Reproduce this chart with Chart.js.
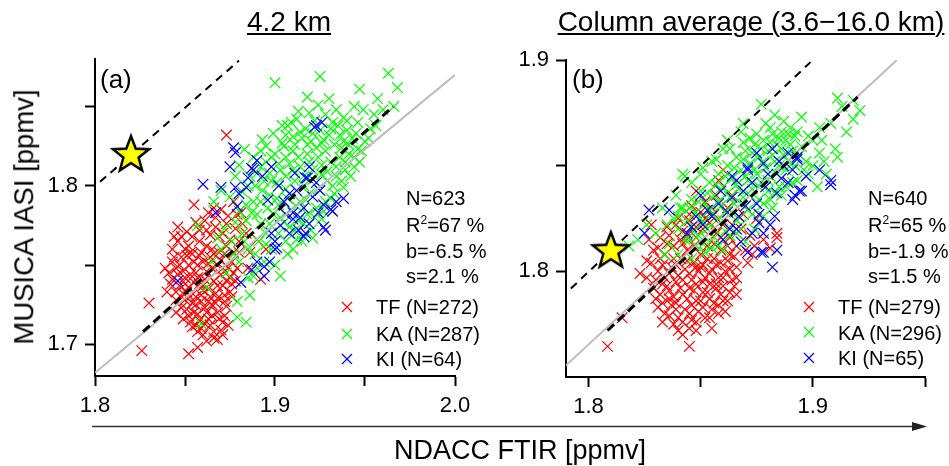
<!DOCTYPE html>
<html>
<head>
<meta charset="utf-8">
<title>MUSICA IASI vs NDACC FTIR</title>
<script src="https://cdn.jsdelivr.net/npm/chart.js@4.4.0/dist/chart.umd.min.js"></script>
<style>
  html, body { margin: 0; padding: 0; background: #fff; }
  body { position: relative; width: 949px; height: 466px; overflow: hidden; font-family: "Liberation Sans", Arial, sans-serif; color: #000; }
  canvas { position: absolute; top: 0; }
  #chartA { left: 0; }
  #chartB { left: 480px; }
  .t { position: absolute; line-height: 1; white-space: nowrap; }
  .title { font-size: 28px; top: 8px; transform: translateX(-50%); text-decoration: underline; text-decoration-thickness: 2px; text-underline-offset: 2px; }
  .panel { font-size: 26px; top: 66px; }
  .stat { font-size: 20px; }
  .stat sup { font-size: 12px; vertical-align: baseline; position: relative; top: -8px; }
  #ytitle { font-size: 27.5px; left: 23.5px; top: 217px; transform: translate(-50%, -50%) rotate(-90deg); }
  #xtitle { font-size: 27px; left: 520px; top: 437px; transform: translateX(-50%); }
  svg { position: absolute; left: 0; top: 0; }
</style>
</head>
<body>
<canvas id="chartA" width="480" height="466"></canvas>
<canvas id="chartB" width="469" height="466"></canvas>

<div class="t title" style="left:289px">4.2 km</div>
<div class="t title" style="left:751px">Column average (3.6−16.0 km)</div>
<div class="t panel" style="left:100px">(a)</div>
<div class="t panel" style="left:572px">(b)</div>
<div class="t" id="ytitle">MUSICA IASI [ppmv]</div>
<div class="t" id="xtitle">NDACC FTIR [ppmv]</div>

<div class="t stat" style="left:406px;top:188px">N=623</div>
<div class="t stat" style="left:406px;top:215px">R<sup>2</sup>=67 %</div>
<div class="t stat" style="left:406px;top:241px">b=-6.5 %</div>
<div class="t stat" style="left:406px;top:266px">s=2.1 %</div>
<div class="t stat" style="left:376px;top:297px">TF (N=272)</div>
<div class="t stat" style="left:376px;top:324px">KA (N=287)</div>
<div class="t stat" style="left:376px;top:349px">KI (N=64)</div>

<div class="t stat" style="left:868px;top:188px">N=640</div>
<div class="t stat" style="left:868px;top:215px">R<sup>2</sup>=65 %</div>
<div class="t stat" style="left:868px;top:241px">b=-1.9 %</div>
<div class="t stat" style="left:868px;top:266px">s=1.5 %</div>
<div class="t stat" style="left:838px;top:297px">TF (N=279)</div>
<div class="t stat" style="left:838px;top:323px">KA (N=296)</div>
<div class="t stat" style="left:838px;top:348px">KI (N=65)</div>

<svg width="949" height="466">
  <line x1="92" y1="426.5" x2="914" y2="426.5" stroke="#333" stroke-width="1.3"/>
  <polygon points="927,426.5 912,422 912,431" fill="#222"/>
  <g stroke-width="1.2" fill="none">
    <path d="M342 302 L352 312 M352 302 L342 312" stroke="#ff0000"/>
    <path d="M342 329 L352 339 M352 329 L342 339" stroke="#00ff00"/>
    <path d="M342 354 L352 364 M352 354 L342 364" stroke="#0000ff"/>
    <path d="M804 302 L814 312 M814 302 L804 312" stroke="#ff0000"/>
    <path d="M804 327 L814 337 M814 327 L804 337" stroke="#00ff00"/>
    <path d="M804 353 L814 363 M814 353 L804 363" stroke="#0000ff"/>
  </g>
</svg>

<script>
// --- axis ticks ---
const xTicksA = [1.8, 1.85, 1.9, 1.95, 2.0];
const yTicksA = [1.7, 1.75, 1.8, 1.85];
const xTicksB = [1.8, 1.85, 1.9, 1.95];
const yTicksB = [1.8, 1.85, 1.9];

// --- panel (a): 4.2 km, [FTIR, IASI] in ppmv ---
const tfA = [
  [1.826,1.696],[1.830,1.726],[1.852,1.694],[1.857,1.698],[1.873,1.832],[1.866,1.786],[1.892,1.741],[1.885,1.748],
  [1.846,1.774],[1.851,1.771],[1.856,1.777],[1.867,1.780],[1.869,1.768],[1.879,1.782],[1.873,1.776],[1.862,1.772],
  [1.858,1.765],[1.848,1.768],[1.877,1.790],[1.870,1.785],[1.863,1.783],[1.855,1.788],[1.882,1.776],[1.875,1.766],
  [1.865,1.760],[1.852,1.762],[1.843,1.760],[1.884,1.770],[1.881,1.783],[1.890,1.766],[1.895,1.760],[1.886,1.758],
  [1.841,1.745],[1.843,1.752],[1.845,1.748],[1.848,1.755],[1.850,1.742],[1.852,1.750],[1.854,1.757],[1.856,1.745],
  [1.858,1.738],[1.860,1.752],[1.862,1.746],[1.864,1.755],[1.866,1.740],[1.868,1.750],[1.870,1.744],[1.872,1.757],
  [1.874,1.748],[1.876,1.752],[1.878,1.740],[1.880,1.758],[1.847,1.737],[1.851,1.733],[1.855,1.739],[1.859,1.731],
  [1.863,1.735],[1.867,1.732],[1.871,1.737],[1.875,1.733],[1.845,1.733],[1.840,1.733],[1.853,1.758],[1.861,1.741],
  [1.857,1.750],[1.869,1.758],[1.865,1.748],[1.849,1.746],[1.873,1.740],[1.877,1.745],[1.862,1.762],[1.858,1.756],
  [1.848,1.723],[1.852,1.718],[1.854,1.711],[1.856,1.725],[1.858,1.715],[1.860,1.706],[1.862,1.720],[1.864,1.712],
  [1.866,1.704],[1.868,1.703],[1.868,1.720],[1.871,1.714],[1.873,1.724],[1.876,1.730],[1.850,1.728],[1.855,1.720],
  [1.859,1.727],[1.861,1.713],[1.863,1.727],[1.865,1.718],[1.867,1.726],[1.870,1.709],[1.857,1.708],[1.853,1.730],
  [1.872,1.718],[1.874,1.712],
  [1.846,1.765],[1.850,1.760],[1.854,1.768],[1.858,1.772],[1.861,1.778],[1.864,1.769],[1.867,1.774],[1.871,1.770],
  [1.874,1.781],[1.878,1.773],[1.844,1.755],[1.847,1.750],[1.851,1.756],[1.855,1.752],[1.859,1.758],[1.863,1.751],
  [1.866,1.757],[1.870,1.753],[1.873,1.762],[1.877,1.758],[1.843,1.741],[1.846,1.744],[1.850,1.738],[1.853,1.744],
  [1.857,1.742],[1.860,1.737],[1.864,1.742],[1.868,1.737],[1.871,1.748],[1.875,1.742],[1.845,1.728],[1.849,1.732],
  [1.852,1.736],[1.856,1.730],[1.860,1.734],[1.864,1.730],[1.868,1.729],[1.872,1.731],[1.876,1.738],[1.879,1.748],
  [1.851,1.722],[1.854,1.726],[1.857,1.719],[1.861,1.723],[1.865,1.725],[1.869,1.716],[1.872,1.727],[1.863,1.716],
  [1.859,1.710],[1.866,1.708],[1.849,1.716],[1.853,1.714],[1.856,1.712],[1.871,1.706],[1.862,1.702],[1.845,1.720],
  [1.842,1.738],[1.839,1.748],[1.844,1.768],[1.880,1.765]
];
const kaA = [
  [1.900,1.865],[1.925,1.869],[1.963,1.871],[1.968,1.862],[1.947,1.861],[1.957,1.855],[1.949,1.848],[1.966,1.850],
  [1.924,1.851],[1.907,1.838],[1.910,1.831],[1.928,1.845],[1.946,1.840],[1.909,1.840],[1.938,1.843],[1.955,1.845],
  [1.893,1.829],[1.883,1.823],[1.878,1.806],[1.875,1.793],[1.904,1.827],[1.888,1.818],[1.880,1.813],[1.870,1.797],[1.866,1.790],
  [1.885,1.800],[1.890,1.808],[1.895,1.815],[1.900,1.820],[1.905,1.825],[1.910,1.822],[1.915,1.830],[1.920,1.828],
  [1.925,1.835],[1.930,1.832],[1.935,1.838],[1.940,1.835],[1.888,1.790],[1.893,1.797],[1.898,1.803],[1.903,1.810],
  [1.908,1.814],[1.913,1.818],[1.918,1.820],[1.923,1.824],[1.928,1.822],[1.933,1.826],[1.938,1.828],[1.943,1.830],
  [1.890,1.782],[1.896,1.786],[1.901,1.792],[1.906,1.798],[1.911,1.803],[1.916,1.806],[1.921,1.810],[1.926,1.813],
  [1.931,1.815],[1.936,1.818],[1.941,1.820],[1.946,1.823],[1.897,1.776],[1.903,1.780],[1.909,1.785],[1.914,1.790],
  [1.919,1.795],[1.924,1.798],[1.929,1.803],[1.934,1.806],[1.939,1.810],[1.944,1.812],[1.902,1.770],[1.908,1.774],
  [1.913,1.778],[1.918,1.782],[1.923,1.786],[1.928,1.790],[1.933,1.795],[1.938,1.799],[1.882,1.796],[1.887,1.811],
  [1.892,1.822],[1.899,1.833],[1.904,1.838],[1.912,1.842],[1.917,1.836],[1.922,1.841],[1.927,1.829],[1.932,1.840],
  [1.937,1.824],[1.942,1.806],[1.947,1.815],[1.950,1.828],[1.953,1.836],[1.945,1.833],
  [1.862,1.736],[1.884,1.714],[1.879,1.717],[1.886,1.731],[1.879,1.727],[1.859,1.713],[1.857,1.775],[1.903,1.743],
  [1.888,1.743],[1.873,1.745],[1.870,1.760],[1.876,1.765],[1.882,1.770],[1.880,1.752],[1.885,1.760],[1.891,1.765],
  [1.878,1.777],[1.884,1.778],[1.889,1.757],[1.894,1.752],[1.898,1.760],[1.915,1.765],[1.907,1.757],[1.865,1.752],
  [1.868,1.767],[1.872,1.773],[1.895,1.770],[1.900,1.750],[1.910,1.760],[1.920,1.772],
  [1.895,1.825],[1.898,1.818],[1.902,1.814],[1.906,1.818],[1.911,1.826],[1.914,1.834],[1.918,1.826],[1.921,1.833],
  [1.926,1.827],[1.931,1.836],[1.886,1.806],[1.892,1.812],[1.897,1.808],[1.901,1.802],[1.906,1.806],[1.910,1.810],
  [1.914,1.812],[1.919,1.815],[1.924,1.818],[1.929,1.809],[1.934,1.812],[1.939,1.815],[1.944,1.818],[1.948,1.822],
  [1.952,1.830],[1.936,1.832],[1.941,1.826],[1.916,1.800],[1.921,1.804],[1.926,1.807],[1.892,1.790],[1.897,1.794],
  [1.902,1.788],[1.907,1.792],[1.912,1.787],[1.917,1.791],[1.922,1.780],[1.927,1.784],[1.932,1.800],[1.937,1.803],
  [1.899,1.782],[1.905,1.777],[1.911,1.772],[1.916,1.776],[1.921,1.767],[1.926,1.779],[1.931,1.792],[1.906,1.765],
  [1.912,1.766],[1.895,1.763],[1.884,1.788],[1.889,1.800],[1.894,1.803],[1.880,1.784],[1.887,1.783],[1.892,1.776],
  [1.883,1.765],[1.877,1.757],[1.885,1.742],[1.890,1.748],[1.906,1.832],[1.913,1.847],[1.919,1.846],[1.934,1.848],
  [1.940,1.841],[1.956,1.838],[1.960,1.848],[1.944,1.850],[1.930,1.855],[1.918,1.856]
];
const kiA = [
  [1.877,1.824],[1.878,1.821],[1.860,1.801],[1.870,1.799],[1.878,1.799],[1.890,1.816],[1.887,1.811],[1.893,1.806],
  [1.898,1.812],[1.884,1.799],[1.896,1.791],[1.879,1.787],[1.926,1.840],[1.923,1.838],[1.922,1.837],[1.919,1.812],
  [1.918,1.805],[1.923,1.802],[1.938,1.792],[1.927,1.788],[1.931,1.785],[1.927,1.774],[1.888,1.810],[1.917,1.805],
  [1.910,1.783],[1.914,1.780],[1.846,1.740],[1.881,1.739],[1.897,1.752],[1.894,1.749],[1.901,1.761],[1.916,1.768],
  [1.908,1.770],[1.928,1.772],[1.890,1.752],[1.867,1.783],[1.900,1.760],[1.910,1.779],[1.917,1.770],[1.932,1.784],
  [1.924,1.783],[1.905,1.790],[1.912,1.797],[1.902,1.800],[1.908,1.795],[1.921,1.793],
  [1.903,1.775],[1.898,1.770],[1.906,1.782],[1.919,1.776],[1.913,1.772],[1.894,1.743],[1.887,1.747],[1.880,1.795],
  [1.885,1.805],[1.875,1.812],[1.911,1.808],[1.925,1.797],[1.934,1.790],[1.916,1.786],[1.900,1.765]
];
const refLineA = [[1.8, 1.682], [2.0, 1.870]];
const fitLineA = [[1.8267, 1.708], [1.9656, 1.850]];
const oneToOneA = [[1.8028, 1.8025], [1.880, 1.879]];
const starA = [[1.82, 1.82]];

// --- panel (b): column average 3.6-16.0 km ---
const tfB = [
  [1.8085,1.7645],[1.845,1.7645],[1.823,1.799],[1.815,1.778],[1.828,1.822],[1.858,1.780],[1.865,1.793],[1.866,1.802],
  [1.873,1.808],[1.884,1.816],[1.881,1.811],[1.884,1.818],[1.860,1.848],[1.858,1.843],[1.846,1.831],[1.845,1.827],
  [1.827,1.815],[1.831,1.811],[1.834,1.808],[1.838,1.812],[1.841,1.806],[1.844,1.810],[1.847,1.804],[1.850,1.808],
  [1.853,1.812],[1.856,1.806],[1.859,1.810],[1.862,1.805],[1.828,1.804],[1.831,1.800],[1.834,1.797],[1.837,1.802],
  [1.840,1.798],[1.843,1.801],[1.846,1.796],[1.849,1.800],[1.852,1.797],[1.855,1.801],[1.858,1.797],[1.861,1.800],
  [1.864,1.796],[1.829,1.792],[1.832,1.789],[1.835,1.793],[1.838,1.788],[1.841,1.792],[1.844,1.787],[1.847,1.791],
  [1.850,1.786],[1.853,1.790],[1.856,1.785],[1.859,1.789],[1.862,1.786],[1.831,1.783],[1.834,1.780],[1.837,1.784],
  [1.840,1.778],[1.843,1.782],[1.846,1.777],[1.849,1.781],[1.852,1.778],[1.855,1.782],[1.845,1.773],[1.840,1.772],
  [1.836,1.817],[1.842,1.819],[1.848,1.816],[1.851,1.820],[1.854,1.823],[1.857,1.818],[1.860,1.822],[1.863,1.816],
  [1.866,1.812],[1.868,1.820],[1.839,1.822],[1.845,1.824],[1.850,1.828],[1.855,1.830],[1.862,1.830],[1.869,1.827],
  [1.872,1.817],[1.875,1.825],[1.833,1.803],[1.839,1.795],[1.842,1.813],[1.848,1.794],[1.851,1.803],[1.854,1.794],
  [1.857,1.803],[1.860,1.793],[1.863,1.808],[1.836,1.787],[1.846,1.784],[1.826,1.797],
  [1.829,1.810],[1.832,1.806],[1.835,1.813],[1.838,1.806],[1.841,1.815],[1.844,1.805],[1.847,1.812],[1.850,1.802],
  [1.853,1.806],[1.856,1.813],[1.859,1.804],[1.862,1.812],[1.865,1.807],[1.830,1.796],[1.833,1.794],[1.836,1.799],
  [1.839,1.803],[1.842,1.796],[1.845,1.799],[1.848,1.802],[1.851,1.795],[1.854,1.799],[1.857,1.794],[1.860,1.797],
  [1.863,1.801],[1.866,1.797],[1.830,1.787],[1.833,1.785],[1.836,1.791],[1.839,1.785],[1.842,1.789],[1.845,1.792],
  [1.848,1.786],[1.851,1.790],[1.854,1.787],[1.857,1.792],[1.860,1.786],[1.863,1.790],[1.833,1.776],[1.836,1.779],
  [1.839,1.782],[1.842,1.776],[1.845,1.780],[1.848,1.776],[1.851,1.783],[1.854,1.778],[1.858,1.784],[1.842,1.770],
  [1.848,1.772],[1.838,1.775],[1.835,1.821],[1.840,1.825],[1.844,1.817],[1.848,1.821],[1.852,1.825],[1.856,1.827],
  [1.859,1.816],[1.864,1.822],[1.870,1.810],[1.867,1.826],[1.871,1.804],[1.874,1.812],[1.878,1.815],[1.852,1.833],
  [1.857,1.836],[1.848,1.838],[1.864,1.836],[1.855,1.773],[1.861,1.781],[1.866,1.789],[1.826,1.805],[1.832,1.816]
];
const kaB = [
  [1.911,1.882],[1.918,1.881],[1.918,1.872],[1.877,1.879],[1.895,1.873],[1.911,1.854],[1.905,1.852],[1.842,1.846],
  [1.860,1.858],[1.833,1.830],[1.879,1.870],[1.872,1.863],[1.902,1.840],[1.843,1.845],[1.841,1.830],[1.915,1.866],
  [1.908,1.870],[1.900,1.862],
  [1.838,1.825],[1.842,1.830],[1.846,1.834],[1.850,1.838],[1.854,1.842],[1.858,1.846],[1.862,1.850],[1.866,1.854],
  [1.870,1.857],[1.874,1.860],[1.878,1.862],[1.882,1.865],[1.886,1.866],[1.890,1.868],[1.840,1.820],[1.844,1.824],
  [1.848,1.828],[1.852,1.832],[1.856,1.836],[1.860,1.840],[1.864,1.844],[1.868,1.848],[1.872,1.851],[1.876,1.854],
  [1.880,1.857],[1.884,1.860],[1.888,1.862],[1.892,1.864],[1.843,1.815],[1.847,1.819],[1.851,1.823],[1.855,1.827],
  [1.859,1.831],[1.863,1.835],[1.867,1.839],[1.871,1.843],[1.875,1.846],[1.879,1.849],[1.883,1.852],[1.887,1.855],
  [1.891,1.857],[1.895,1.859],[1.848,1.812],[1.852,1.816],[1.856,1.820],[1.860,1.824],[1.864,1.828],[1.868,1.832],
  [1.872,1.836],[1.876,1.840],[1.880,1.843],[1.884,1.846],[1.888,1.848],[1.892,1.850],[1.858,1.812],[1.863,1.817],
  [1.868,1.822],[1.873,1.827],[1.878,1.832],[1.883,1.837],[1.888,1.840],[1.893,1.843],[1.898,1.846],
  [1.836,1.813],[1.830,1.818],[1.834,1.808],[1.855,1.811],[1.870,1.814],[1.826,1.822],[1.822,1.815],[1.818,1.812],
  [1.862,1.862],[1.868,1.866],[1.855,1.852],[1.850,1.846],[1.880,1.838],[1.885,1.840],[1.897,1.852],[1.900,1.850],
  [1.903,1.856],[1.878,1.826],[1.866,1.818],[1.846,1.806],[1.840,1.808],[1.874,1.820],[1.882,1.830],
  [1.845,1.830],[1.849,1.833],[1.853,1.837],[1.857,1.841],[1.861,1.845],[1.865,1.849],[1.869,1.853],[1.873,1.856],
  [1.877,1.858],[1.881,1.861],[1.885,1.863],[1.889,1.865],[1.840,1.826],[1.846,1.821],[1.850,1.825],[1.854,1.829],
  [1.858,1.833],[1.862,1.837],[1.866,1.841],[1.870,1.845],[1.874,1.848],[1.878,1.852],[1.882,1.855],[1.886,1.858],
  [1.890,1.860],[1.845,1.815],[1.849,1.817],[1.853,1.820],[1.857,1.824],[1.861,1.828],[1.865,1.832],[1.869,1.835],
  [1.873,1.839],[1.877,1.842],[1.881,1.845],[1.885,1.850],[1.889,1.852],[1.894,1.855],[1.851,1.813],[1.856,1.816],
  [1.861,1.819],[1.866,1.824],[1.871,1.829],[1.876,1.834],[1.881,1.834],[1.886,1.836],[1.891,1.842],[1.896,1.848],
  [1.863,1.858],[1.869,1.861],[1.875,1.865],[1.881,1.868],[1.887,1.871],[1.893,1.866],[1.898,1.864],[1.904,1.862],
  [1.857,1.853],[1.851,1.849],[1.846,1.842],[1.839,1.836],[1.910,1.858],[1.906,1.846],[1.913,1.878],[1.921,1.876],
  [1.883,1.874],[1.869,1.870],[1.903,1.868],[1.852,1.809],[1.860,1.810],[1.835,1.822]
];
const kiB = [
  [1.827,1.829],[1.836,1.829],[1.850,1.836],[1.864,1.845],[1.864,1.835],[1.825,1.818],[1.875,1.856],[1.882,1.858],
  [1.871,1.849],[1.893,1.854],[1.891,1.848],[1.884,1.837],[1.891,1.834],[1.894,1.838],[1.908,1.841],[1.908,1.843],
  [1.855,1.826],[1.846,1.821],[1.867,1.826],[1.878,1.818],[1.889,1.856],[1.893,1.853],[1.878,1.851],[1.871,1.848],
  [1.895,1.838],[1.892,1.836],[1.876,1.827],[1.876,1.823],[1.871,1.809],[1.878,1.809],[1.882,1.802],[1.844,1.818],
  [1.860,1.815],[1.877,1.809],[1.873,1.818],[1.858,1.832],[1.862,1.828],[1.869,1.838],[1.880,1.846],[1.886,1.844],
  [1.851,1.822],[1.866,1.820],[1.870,1.831],[1.883,1.826],[1.887,1.850],
  [1.859,1.838],[1.866,1.843],[1.873,1.842],[1.879,1.840],[1.885,1.852],[1.897,1.845],[1.889,1.842],[1.853,1.829],
  [1.848,1.826],[1.881,1.822],[1.875,1.832],[1.868,1.814],[1.884,1.810],[1.863,1.820],[1.903,1.848]
];
const refLineB = [[1.79, 1.7555], [1.9375, 1.900]];
const fitLineB = [[1.8085, 1.772], [1.920, 1.8825]];
const oneToOneB = [[1.7922, 1.7919], [1.899, 1.899]];
const starB = [[1.81, 1.81]];

// --- styles ---
Chart.defaults.font.family = "'Liberation Sans', Arial, sans-serif";
Chart.defaults.color = '#000';

// yellow five-pointed star used as point style
function makeStar() {
  const c = document.createElement('canvas');
  c.width = 44; c.height = 44;
  const ctx = c.getContext('2d');
  ctx.beginPath();
  for (let i = 0; i < 10; i++) {
    const r = i % 2 ? 8 : 19;
    const a = -Math.PI / 2 + i * Math.PI / 5;
    ctx.lineTo(22 + r * Math.cos(a), 23 + r * Math.sin(a));
  }
  ctx.closePath();
  ctx.fillStyle = '#ffff00';
  ctx.fill();
  ctx.lineWidth = 2.5;
  ctx.strokeStyle = '#000';
  ctx.stroke();
  return c;
}
const starImg = makeStar();

const toXY = pts => pts.map(p => ({ x: p[0], y: p[1] }));

function crossSet(pts, color, order) {
  return { data: toXY(pts), pointStyle: 'crossRot', pointRadius: 7.5, borderColor: color, backgroundColor: color, borderWidth: 1.2, order };
}
function lineSet(pts, color, width, dash, order) {
  return { data: toXY(pts), showLine: true, pointRadius: 0, borderColor: color, borderWidth: width, borderDash: dash, fill: false, order };
}
function starSet(pts) {
  return { data: toXY(pts), pointStyle: starImg, pointRadius: 20, order: 0 };
}

const majorLabel = v => Math.abs(v * 10 - Math.round(v * 10)) < 1e-6 ? v.toFixed(1) : '';

function axis(min, max, ticks, fit) {
  return {
    type: 'linear', min, max,
    afterBuildTicks: s => { s.ticks = ticks.map(v => ({ value: v })); },
    afterFit: fit,
    ticks: { font: { size: 22 }, padding: 7, autoSkip: false, maxRotation: 0, callback: majorLabel },
    grid: { drawOnChartArea: false, drawTicks: true, tickLength: 10, tickWidth: 2, tickColor: '#000' },
    border: { display: true, color: '#000', width: 2 }
  };
}

function makeChart(id, datasets, ax) {
  return new Chart(document.getElementById(id), {
    type: 'scatter',
    data: { datasets },
    options: {
      responsive: false,
      animation: false,
      events: [],
      layout: { padding: { top: ax.top, right: ax.right, left: 0, bottom: 0 } },
      plugins: { legend: { display: false }, tooltip: { enabled: false } },
      scales: {
        x: axis(ax.xMin, ax.xMax, ax.xTicks, s => { s.height = 466 - ax.bottom; }),
        y: axis(ax.yMin, ax.yMax, ax.yTicks, s => { s.width = ax.left; })
      }
    }
  });
}

makeChart('chartA', [
  starSet(starA),
  lineSet(fitLineA, '#000', 3, [9, 5], 1),
  lineSet(oneToOneA, '#000', 2, [8, 6], 1),
  lineSet(refLineA, '#bdbdbd', 2, [], 2),
  crossSet(kiA, '#0000ff', 3),
  crossSet(kaA, '#00ff00', 4),
  crossSet(tfA, '#ff0000', 5)
], { left: 95, top: 59, right: 25, bottom: 376, xMin: 1.8, xMax: 2.0, yMin: 1.68, yMax: 1.88, xTicks: xTicksA, yTicks: yTicksA });

makeChart('chartB', [
  starSet(starB),
  lineSet(fitLineB, '#000', 3, [9, 5], 1),
  lineSet(oneToOneB, '#000', 2, [8, 6], 1),
  lineSet(refLineB, '#bdbdbd', 2, [], 2),
  crossSet(kiB, '#0000ff', 3),
  crossSet(kaB, '#00ff00', 4),
  crossSet(tfB, '#ff0000', 5)
], { left: 86, top: 60, right: 24, bottom: 377, xMin: 1.79, xMax: 1.95, yMin: 1.75, yMax: 1.9, xTicks: xTicksB, yTicks: yTicksB });
</script>
</body>
</html>
